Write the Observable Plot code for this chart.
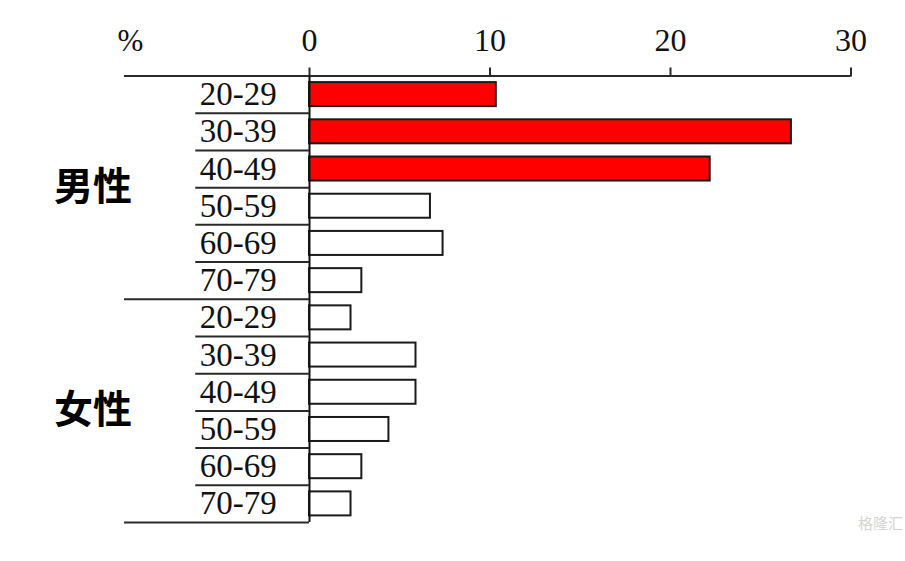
<!DOCTYPE html>
<html>
<head>
<meta charset="utf-8">
<script src="https://cdn.jsdelivr.net/npm/d3@7"></script>
<script src="https://cdn.jsdelivr.net/npm/@observablehq/plot@0.6"></script>
<style>
  html, body { margin: 0; padding: 0; background: #ffffff; }
  #chart { width: 905px; height: 561px; }
</style>
</head>
<body>
<div id="chart"></div>
<script>
// ---- data ----
const groups = ["男性", "女性"];
const ageBands = ["20-29", "30-39", "40-49", "50-59", "60-69", "70-79"];
const maleValues = [10.35, 26.7, 22.2, 6.7, 7.4, 2.9];
const femaleValues = [2.3, 5.9, 5.9, 4.4, 2.9, 2.3];
const maleHighlighted = [true, true, true, false, false, false];
const femaleHighlighted = [false, false, false, false, false, false];
const xTicks = [0, 10, 20, 30];
const unitLabel = "%";
const watermark = "格隆汇";

// ---- table ----
const rows = [];
ageBands.forEach((a, i) => rows.push({group: groups[0], age: a, value: maleValues[i], hi: maleHighlighted[i], row: i}));
ageBands.forEach((a, i) => rows.push({group: groups[1], age: a, value: femaleValues[i], hi: femaleHighlighted[i], row: 6 + i}));
const nRows = rows.length;

const labelX = -3.95;      // row label column (in x units, left of zero)
const sepX = -6.3;         // start of inner row separators
const leftX = -10.25;      // start of group separators
const innerSeps = d3.range(1, nRows).filter(k => k % ageBands.length !== 0);
const groupSeps = d3.range(ageBands.length, nRows + 1, ageBands.length);
const groupLabels = groups.map((g, i) => ({g, y: i * ageBands.length + ageBands.length / 2}));

const serif = "Liberation Serif, Times New Roman, serif";
const lineColor = "#2a2a2a";

const plot = Plot.plot({
  width: 905,
  height: 561,
  marginTop: 75.5,
  marginBottom: 39,
  marginLeft: 309,
  marginRight: 54.5,
  style: {background: "#ffffff", fontFamily: serif, color: "#111"},
  x: {domain: [0, 30], axis: null},
  y: {domain: [0, nRows], reverse: true, axis: null},
  marks: [
    Plot.rectX(rows, {
      x1: 0, x2: "value", y1: "row", y2: d => d.row + 1,
      insetTop: 6.6, insetBottom: 6.6,
      fill: d => d.hi ? "#ff0000" : "#ffffff",
      stroke: "#1a1a1a", strokeWidth: 2
    }),
    // top axis ticks
    Plot.axisX(xTicks, {
      anchor: "top", tickSize: 9, tickFormat: null, label: null, text: null,
      stroke: lineColor, strokeWidth: 2
    }),
    // tick labels
    Plot.text(xTicks, {
      x: d => d, frameAnchor: "top", dy: -48, text: d => String(d),
      fontSize: 32, fontFamily: serif, fill: "#111", textAnchor: "middle"
    }),
    // top axis line
    Plot.ruleY([0], {x1: leftX, x2: 30, stroke: lineColor, strokeWidth: 2}),
    // zero line
    Plot.ruleX([0], {y1: 0, y2: nRows, stroke: "#111", strokeWidth: 2}),
    // inner row separators
    Plot.ruleY(innerSeps, {x1: sepX, x2: 0, stroke: lineColor, strokeWidth: 2}),
    // group separators
    Plot.ruleY(groupSeps, {x1: leftX, x2: 0, stroke: lineColor, strokeWidth: 2}),
    // row labels
    Plot.text(rows, {
      x: labelX, y: d => d.row + 0.5, text: "age",
      fontSize: 33, fontFamily: serif, fill: "#111", textAnchor: "middle"
    }),
    // group labels
    Plot.text(groupLabels, {
      x: -12.0, y: "y", text: "g",
      fontSize: 39, fontWeight: "bold", fontFamily: "Noto Sans CJK SC, sans-serif",
      fill: "#000", textAnchor: "middle"
    }),
    // unit label
    Plot.text([unitLabel], {
      x: -9.92, frameAnchor: "top", dy: -47, text: d => d,
      fontSize: 31, fontFamily: serif, fill: "#111", textAnchor: "middle"
    }),
    // watermark
    Plot.text([watermark], {
      frameAnchor: "bottom-right", dx: 52, dy: 6, text: d => d,
      fontSize: 15, fontFamily: "Noto Sans CJK SC, sans-serif", fill: "#d4d4d4", textAnchor: "end"
    })
  ]
});

document.getElementById("chart").appendChild(plot);
</script>
</body>
</html>
